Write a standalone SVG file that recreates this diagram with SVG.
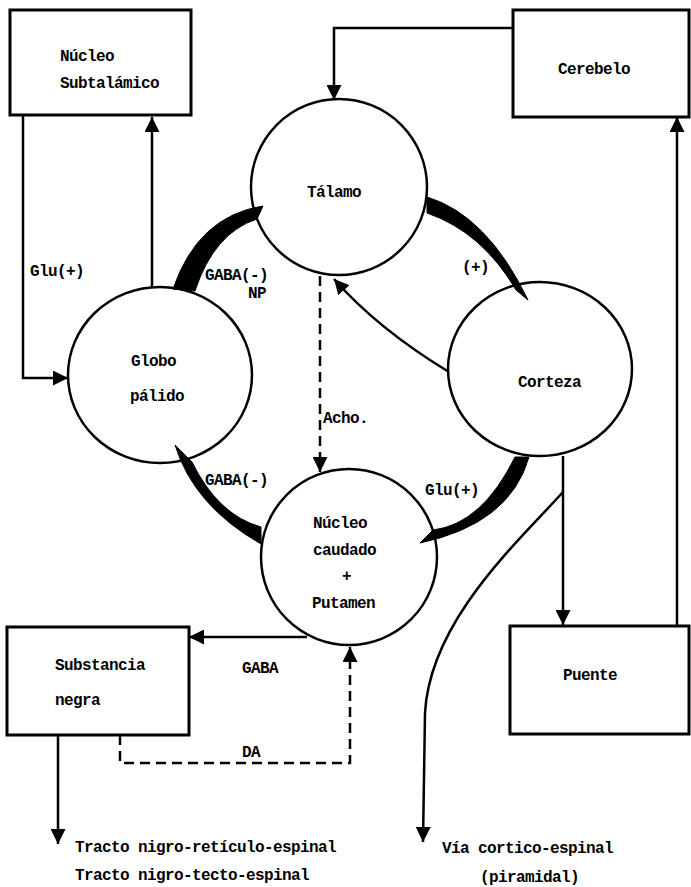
<svg xmlns="http://www.w3.org/2000/svg" width="691" height="887" viewBox="0 0 691 887">
<defs>
<marker id="ah" viewBox="0 0 15 15" refX="15" refY="7.5" markerWidth="15" markerHeight="15" markerUnits="userSpaceOnUse" orient="auto">
<path d="M0,0 L15,7.5 L0,15 Z" fill="#000"/>
</marker>
</defs>
<style>
.box{fill:#fff;stroke:#000;stroke-width:3}
.node{fill:#fff;stroke:#000;stroke-width:2.5}
.ln{fill:none;stroke:#000;stroke-width:2.5}
.dash{fill:none;stroke:#000;stroke-width:2.5;stroke-dasharray:10,6}
.thick{fill:#000;stroke:#000;stroke-width:1}
text{font-family:"Liberation Mono","DejaVu Sans Mono",monospace;font-weight:bold;font-size:16px;letter-spacing:-0.6px;fill:#000}
</style>
<rect width="691" height="887" fill="#fff"/>
<g id="nucleo-subtalamico">
<rect class="box" x="10" y="10" width="181" height="105"/>
<text x="60" y="61">Núcleo</text>
<text x="60" y="88">Subtalámico</text>
</g>
<g id="cerebelo">
<rect class="box" x="513" y="10" width="176" height="107"/>
<text x="558" y="74">Cerebelo</text>
</g>
<g id="talamo">
<circle class="node" cx="339" cy="187" r="88"/>
<text x="307" y="197">Tálamo</text>
</g>
<g id="globo-palido">
<ellipse class="node" cx="160" cy="375" rx="92" ry="88"/>
<text x="131" y="366">Globo</text>
<text x="130" y="401">pálido</text>
</g>
<g id="corteza">
<ellipse class="node" cx="540" cy="369" rx="92" ry="87"/>
<text x="518" y="387">Corteza</text>
</g>
<g id="nucleo-caudado">
<circle class="node" cx="349" cy="557" r="88"/>
<text x="313" y="528">Núcleo</text>
<text x="313" y="555">caudado</text>
<text x="342" y="581">+</text>
<text x="312" y="608">Putamen</text>
</g>
<g id="substancia-negra">
<rect class="box" x="7" y="627" width="182" height="108"/>
<text x="55" y="670">Substancia</text>
<text x="55" y="705">negra</text>
</g>
<g id="puente">
<rect class="box" x="510" y="626" width="179" height="108"/>
<text x="563" y="680">Puente</text>
</g>
<g id="connectors">
<polyline class="ln" points="513,28 334,28 334,100" marker-end="url(#ah)"/>
<polyline class="ln" points="23,115 23,378 68,378" marker-end="url(#ah)"/>
<line class="ln" x1="152" y1="287" x2="152" y2="117" marker-end="url(#ah)"/>
<line class="ln" x1="563" y1="456" x2="563" y2="625" marker-end="url(#ah)"/>
<line class="ln" x1="677" y1="626" x2="677" y2="117" marker-end="url(#ah)"/>
<line class="ln" x1="307" y1="637" x2="189" y2="637" marker-end="url(#ah)"/>
<polyline class="dash" points="120,735 120,763 350,763 350,647" marker-end="url(#ah)"/>
<line class="ln" x1="58" y1="735" x2="58" y2="844" marker-end="url(#ah)"/>
<path class="ln" d="M563,492 C520,540 430,620 425,713 L423,842" marker-end="url(#ah)"/>
<line class="dash" x1="320" y1="276" x2="320" y2="472" marker-end="url(#ah)"/>
<path class="ln" d="M449,372 Q378,329 334,279" marker-end="url(#ah)"/>
<path class="thick" d="M173,289 Q198,216 263,206 L257,219 Q214,233 195,291 Z"/>
<path class="thick" d="M427,197 Q487,215 528,300 L516,290 Q482,232 427,213 Z"/>
<path class="thick" d="M515,457 L529,457 Q510,524 420,543 L433,530 Q482,524 515,457 Z"/>
<path class="thick" d="M261,527 L261,544 Q194,506 175,445 L192,462 Q218,515 261,527 Z"/>
<text x="30" y="276">Glu(+)</text>
<text x="205" y="280">GABA(-)</text>
<text x="248" y="298">NP</text>
<text x="462" y="272">(+)</text>
<text x="323" y="423">Acho.</text>
<text x="205" y="485">GABA(-)</text>
<text x="425" y="495">Glu(+)</text>
<text x="242" y="673">GABA</text>
<text x="242" y="757">DA</text>
<text x="75" y="852">Tracto nigro-retículo-espinal</text>
<text x="75" y="880">Tracto nigro-tecto-espinal</text>
<text x="442" y="853">Vía cortico-espinal</text>
<text x="480" y="882">(piramidal)</text>
</g>
</svg>
